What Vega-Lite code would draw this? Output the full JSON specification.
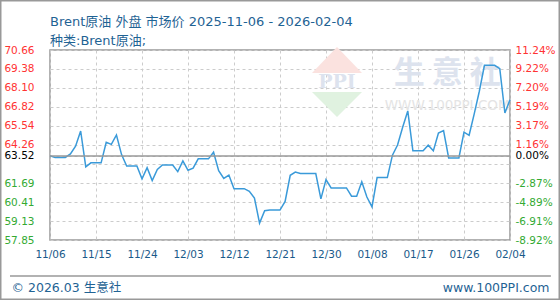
{
  "$schema": "https://vega.github.io/schema/vega-lite/v6.json",
  "width": 460,
  "height": 190,
  "autosize": "none",
  "padding": {"left": 50, "top": 50, "right": 50, "bottom": 60},
  "background": "white",
  "config": {
    "view": {"stroke": "#999999", "strokeWidth": 1.5},
    "font": "DejaVu Sans, Noto Sans CJK SC"
  },
  "title": {
    "text": "Brent原油 外盘 市场价 2025-11-06 - 2026-02-04",
    "subtitle": "种类:Brent原油;",
    "anchor": "start",
    "frame": "group",
    "offset": 3,
    "dy": 51,
    "font": "DejaVu Sans, Noto Sans CJK SC",
    "subtitleFont": "DejaVu Sans, Noto Sans CJK SC",
    "fontSize": 13,
    "fontWeight": "normal",
    "color": "#1f6394",
    "subtitleFontSize": 13,
    "subtitleColor": "#1f6394",
    "subtitlePadding": 6
  },
  "layer": [
    {
      "data": {"values": [{}]},
      "mark": {"type": "point", "shape": "M0,-1.04L1,0L-1,0Z", "size": 2500, "filled": true, "color": "#fbe2df", "opacity": 1},
      "encoding": {
        "x": {"datum": {"year": 2026, "month": 1, "date": 1, "hours": 3, "minutes": 36, "utc": true}, "type": "temporal"},
        "y": {"datum": 69.11, "type": "quantitative", "axis": null}
      }
    },
    {
      "data": {"values": [{}]},
      "mark": {"type": "point", "shape": "M-1,0L1,0L0,1Z", "size": 2500, "filled": true, "color": "#e0f2e0", "opacity": 1},
      "encoding": {
        "x": {"datum": {"year": 2026, "month": 1, "date": 1, "hours": 3, "minutes": 36, "utc": true}, "type": "temporal"},
        "y": {"datum": 67.83, "type": "quantitative", "axis": null}
      }
    },
    {
      "data": {"values": [{}]},
      "mark": {"type": "text", "font": "DejaVu Serif", "fontWeight": "bold", "fontSize": 19, "color": "#dde3ee", "align": "center", "baseline": "middle"},
      "encoding": {
        "x": {"datum": {"year": 2026, "month": 1, "date": 1, "hours": 3, "minutes": 36, "utc": true}, "type": "temporal"},
        "y": {"datum": 68.50, "type": "quantitative", "axis": null},
        "text": {"value": "PPI"}
      }
    },
    {
      "data": {"values": [{}]},
      "mark": {"type": "text", "font": "Noto Sans CJK SC", "fontWeight": "bold", "fontSize": 31, "color": "#dde3ee", "align": "center", "baseline": "middle"},
      "encoding": {
        "x": {"datum": {"year": 2026, "month": 1, "date": 22, "hours": 17, "utc": true}, "type": "temporal"},
        "y": {"datum": 69.05, "type": "quantitative", "axis": null},
        "text": {"value": "生 意 社"}
      }
    },
    {
      "data": {"values": [{}]},
      "mark": {"type": "text", "font": "DejaVu Sans", "fontSize": 13.5, "color": "#e4e4e4", "align": "center", "baseline": "middle"},
      "encoding": {
        "x": {"datum": {"year": 2026, "month": 1, "date": 22, "hours": 17, "utc": true}, "type": "temporal"},
        "y": {"datum": 66.88, "type": "quantitative", "axis": null},
        "text": {"value": "WWW.100PPI.COM"}
      }
    },
    {
      "data": {
        "values": [
          {"date": "2025-11-06", "price": 63.52},
          {"date": "2025-11-07", "price": 63.42},
          {"date": "2025-11-08", "price": 63.42},
          {"date": "2025-11-09", "price": 63.42},
          {"date": "2025-11-10", "price": 63.65},
          {"date": "2025-11-11", "price": 64.17},
          {"date": "2025-11-12", "price": 65.20},
          {"date": "2025-11-13", "price": 62.78},
          {"date": "2025-11-14", "price": 63.05},
          {"date": "2025-11-15", "price": 63.05},
          {"date": "2025-11-16", "price": 63.05},
          {"date": "2025-11-17", "price": 64.44},
          {"date": "2025-11-18", "price": 64.30},
          {"date": "2025-11-19", "price": 64.93},
          {"date": "2025-11-20", "price": 63.61},
          {"date": "2025-11-21", "price": 62.84},
          {"date": "2025-11-22", "price": 62.84},
          {"date": "2025-11-23", "price": 62.84},
          {"date": "2025-11-24", "price": 61.97},
          {"date": "2025-11-25", "price": 62.73},
          {"date": "2025-11-26", "price": 61.86},
          {"date": "2025-11-27", "price": 62.60},
          {"date": "2025-11-28", "price": 62.91},
          {"date": "2025-11-29", "price": 62.91},
          {"date": "2025-11-30", "price": 62.91},
          {"date": "2025-12-01", "price": 62.46},
          {"date": "2025-12-02", "price": 63.18},
          {"date": "2025-12-03", "price": 62.55},
          {"date": "2025-12-04", "price": 62.69},
          {"date": "2025-12-05", "price": 63.32},
          {"date": "2025-12-06", "price": 63.32},
          {"date": "2025-12-07", "price": 63.32},
          {"date": "2025-12-08", "price": 63.77},
          {"date": "2025-12-09", "price": 62.52},
          {"date": "2025-12-10", "price": 62.00},
          {"date": "2025-12-11", "price": 62.23},
          {"date": "2025-12-12", "price": 61.31},
          {"date": "2025-12-13", "price": 61.31},
          {"date": "2025-12-14", "price": 61.31},
          {"date": "2025-12-15", "price": 61.13},
          {"date": "2025-12-16", "price": 60.68},
          {"date": "2025-12-17", "price": 58.99},
          {"date": "2025-12-18", "price": 59.82},
          {"date": "2025-12-19", "price": 59.87},
          {"date": "2025-12-20", "price": 59.87},
          {"date": "2025-12-21", "price": 59.87},
          {"date": "2025-12-22", "price": 60.45},
          {"date": "2025-12-23", "price": 62.21},
          {"date": "2025-12-24", "price": 62.43},
          {"date": "2025-12-25", "price": 62.33},
          {"date": "2025-12-26", "price": 62.33},
          {"date": "2025-12-27", "price": 62.33},
          {"date": "2025-12-28", "price": 62.33},
          {"date": "2025-12-29", "price": 60.62},
          {"date": "2025-12-30", "price": 61.92},
          {"date": "2025-12-31", "price": 61.36},
          {"date": "2026-01-01", "price": 61.36},
          {"date": "2026-01-02", "price": 61.36},
          {"date": "2026-01-03", "price": 61.36},
          {"date": "2026-01-04", "price": 60.80},
          {"date": "2026-01-05", "price": 60.80},
          {"date": "2026-01-06", "price": 61.77},
          {"date": "2026-01-07", "price": 60.75},
          {"date": "2026-01-08", "price": 60.08},
          {"date": "2026-01-09", "price": 62.06},
          {"date": "2026-01-10", "price": 62.06},
          {"date": "2026-01-11", "price": 62.06},
          {"date": "2026-01-12", "price": 63.57},
          {"date": "2026-01-13", "price": 64.25},
          {"date": "2026-01-14", "price": 65.45},
          {"date": "2026-01-15", "price": 66.55},
          {"date": "2026-01-16", "price": 63.86},
          {"date": "2026-01-17", "price": 63.86},
          {"date": "2026-01-18", "price": 63.86},
          {"date": "2026-01-19", "price": 64.24},
          {"date": "2026-01-20", "price": 63.86},
          {"date": "2026-01-21", "price": 65.06},
          {"date": "2026-01-22", "price": 65.22},
          {"date": "2026-01-23", "price": 63.38},
          {"date": "2026-01-24", "price": 63.38},
          {"date": "2026-01-25", "price": 63.38},
          {"date": "2026-01-26", "price": 65.12},
          {"date": "2026-01-27", "price": 64.91},
          {"date": "2026-01-28", "price": 66.35},
          {"date": "2026-01-29", "price": 67.88},
          {"date": "2026-01-30", "price": 69.63},
          {"date": "2026-01-31", "price": 69.63},
          {"date": "2026-02-01", "price": 69.63},
          {"date": "2026-02-02", "price": 69.40},
          {"date": "2026-02-03", "price": 66.41},
          {"date": "2026-02-04", "price": 67.31}
        ]
      },
      "mark": {"type": "line", "color": "#3a9ad9", "strokeWidth": 1.5},
      "encoding": {
        "x": {
          "field": "date",
          "type": "temporal",
          "scale": {
            "type": "utc",
            "domain": [
              {"year": 2025, "month": 11, "date": 6, "utc": true},
              {"year": 2026, "month": 2, "date": 4, "utc": true}
            ]
          },
          "axis": {
            "values": [
              {"year": 2025, "month": 11, "date": 6, "utc": true},
              {"year": 2025, "month": 11, "date": 15, "utc": true},
              {"year": 2025, "month": 11, "date": 24, "utc": true},
              {"year": 2025, "month": 12, "date": 3, "utc": true},
              {"year": 2025, "month": 12, "date": 12, "utc": true},
              {"year": 2025, "month": 12, "date": 21, "utc": true},
              {"year": 2025, "month": 12, "date": 30, "utc": true},
              {"year": 2026, "month": 1, "date": 8, "utc": true},
              {"year": 2026, "month": 1, "date": 17, "utc": true},
              {"year": 2026, "month": 1, "date": 26, "utc": true},
              {"year": 2026, "month": 2, "date": 4, "utc": true}
            ],
            "format": "%m/%d",
            "domain": false,
            "ticks": false,
            "labelPadding": 9,
            "labelFont": "DejaVu Sans",
            "labelFontSize": 10.5,
            "labelColor": "#1a5a8a",
            "labelOverlap": false,
            "labelFlush": false,
            "labelBound": false,
            "grid": true,
            "gridDash": [3, 3],
            "gridColor": "#cccccc",
            "title": "© 2026.03 生意社",
            "titleX": -39,
            "titleY": 47,
            "titleAlign": "left",
            "titleAnchor": "start",
            "titleBaseline": "middle",
            "titleFont": "DejaVu Sans, Noto Sans CJK SC",
            "titleFontSize": 12.5,
            "titleFontWeight": "normal",
            "titleColor": "#1f6394"
          }
        },
        "y": {
          "field": "price",
          "type": "quantitative",
          "scale": {"domain": [57.85, 70.66], "zero": false, "nice": false},
          "axis": {
            "values": [70.66, 69.38, 68.10, 66.82, 65.54, 64.26, 63.52, 62.98, 61.69, 60.41, 59.13, 57.85],
            "labelExpr": "datum.value == 62.98 ? '' : format(datum.value, '.2f')",
            "domain": false,
            "ticks": false,
            "labelPadding": 16,
            "labelFont": "DejaVu Sans",
            "labelFontSize": 10.5,
            "labelOverlap": false,
            "labelFlush": false,
            "labelBound": false,
            "labelColor": {"condition": [{"test": "datum.value > 63.6", "value": "#ff3333"}, {"test": "datum.value < 63.4", "value": "#33aa33"}], "value": "#000000"},
            "grid": true,
            "gridDash": [3, 3],
            "gridColor": "#cccccc",
            "title": null
          }
        }
      }
    },
    {
      "data": {"values": [{}]},
      "mark": {"type": "rule", "color": "#999999", "strokeWidth": 1.5},
      "encoding": {
        "y": {
          "datum": 63.52,
          "type": "quantitative",
          "axis": {
            "orient": "right",
            "values": [70.66, 69.38, 68.10, 66.82, 65.54, 64.26, 63.52, 61.69, 60.41, 59.13, 57.85],
            "labelExpr": "['11.24%','9.22%','7.20%','5.19%','3.17%','1.16%','0.00%','-2.87%','-4.89%','-6.91%','-8.92%'][indexof([70.66,69.38,68.1,66.82,65.54,64.26,63.52,61.69,60.41,59.13,57.85], datum.value)]",
            "domain": false,
            "ticks": false,
            "grid": false,
            "labelPadding": 5,
            "labelFont": "DejaVu Sans",
            "labelFontSize": 10.5,
            "labelOverlap": false,
            "labelFlush": false,
            "labelBound": false,
            "labelColor": {"condition": [{"test": "datum.value > 63.6", "value": "#ff3333"}, {"test": "datum.value < 63.4", "value": "#33aa33"}], "value": "#000000"},
            "title": "www.100PPI.com",
            "titleAngle": 0,
            "titleX": 39,
            "titleY": 237,
            "titleAlign": "right",
            "titleBaseline": "middle",
            "titleFont": "DejaVu Sans",
            "titleFontSize": 12.5,
            "titleFontWeight": "normal",
            "titleColor": "#1f6394"
          }
        }
      }
    },
    {
      "data": {"values": [{}]},
      "mark": {"type": "rule", "color": "#999999", "strokeWidth": 1.5},
      "encoding": {
        "x": {"datum": {"year": 2025, "month": 10, "date": 29, "hours": 4, "utc": true}, "type": "temporal"},
        "x2": {"datum": {"year": 2026, "month": 2, "date": 12, "utc": true}},
        "y": {"datum": 55.42, "type": "quantitative", "axis": null}
      }
    },
    {
      "data": {"values": [{}]},
      "mark": {"type": "rect", "fillOpacity": 0, "stroke": "#999999", "strokeWidth": 1.5},
      "encoding": {
        "x": {"datum": {"year": 2025, "month": 10, "date": 27, "hours": 8, "minutes": 44, "utc": true}, "type": "temporal"},
        "x2": {"datum": {"year": 2026, "month": 2, "date": 13, "hours": 15, "minutes": 16, "utc": true}},
        "y": {"datum": 73.98, "type": "quantitative", "axis": null},
        "y2": {"datum": 53.85}
      }
    }
  ],
  "resolve": {"axis": {"y": "independent"}}
}
